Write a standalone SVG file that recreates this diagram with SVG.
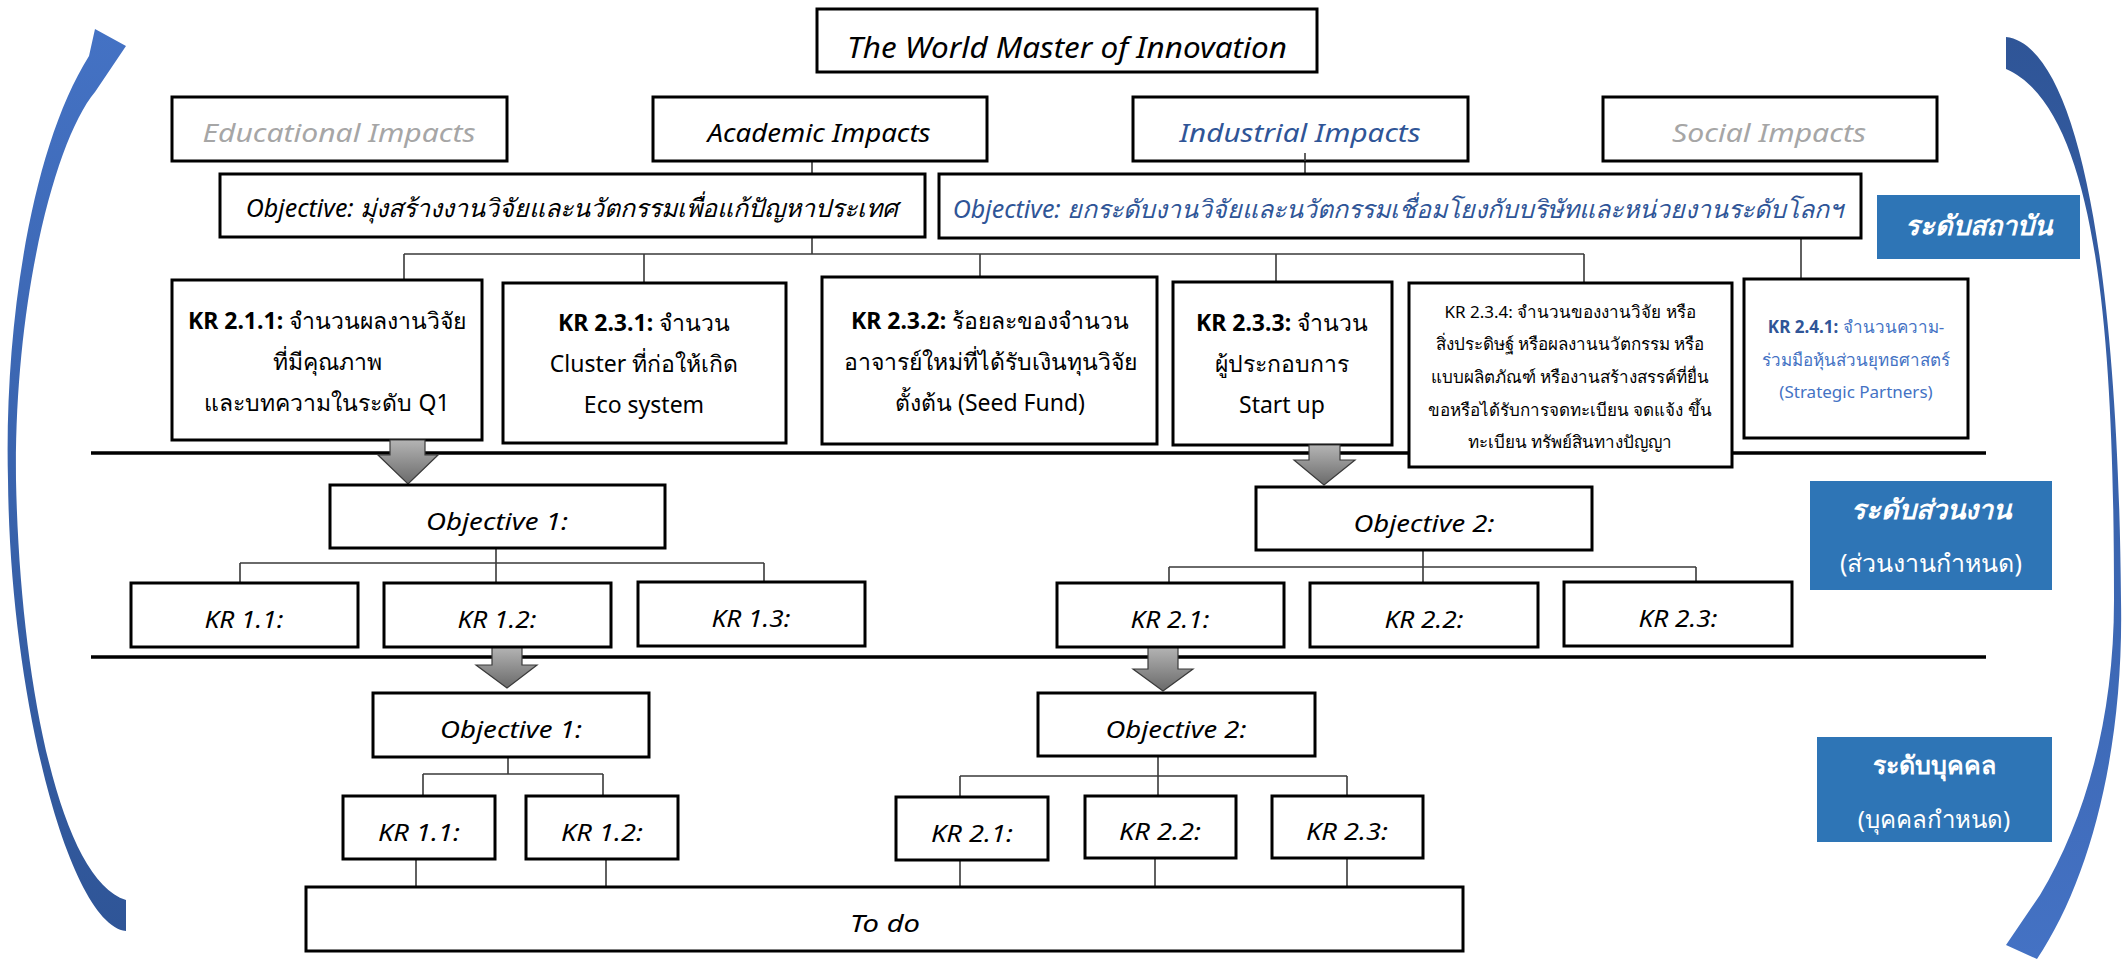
<svg xmlns="http://www.w3.org/2000/svg" width="2123" height="961" viewBox="0 0 2123 961">
<style>
  .box{fill:#fff;stroke:#000;stroke-width:3}
  .side{fill:#2e75b6;stroke:none}
  .t{font-family:"Noto Sans","Liberation Sans",sans-serif;text-anchor:middle;fill:#000}
  .it{font-style:italic}
  .b{font-weight:bold}
  .gray{fill:#a6a6a6}
  .blue{fill:#2f5597}
  .lblue{fill:#4472c4}
  .w{fill:#fff}
  .con{stroke:#3a3a3a;stroke-width:1.6;fill:none}
  .thick{stroke:#000;stroke-width:3.5;fill:none}
  .garrow{fill:url(#gg);stroke:#3a3a3a;stroke-width:1.2}
</style>
<defs>
  <linearGradient id="gg" x1="0" y1="0" x2="0" y2="1">
    <stop offset="0" stop-color="#b4b4b4"/>
    <stop offset="1" stop-color="#6a6a6a"/>
  </linearGradient>
  <linearGradient id="gl" x1="0" y1="0" x2="0" y2="1">
    <stop offset="0" stop-color="#4472c4"/>
    <stop offset="1" stop-color="#2f5597"/>
  </linearGradient>
  <linearGradient id="gr" x1="0" y1="0" x2="0" y2="1">
    <stop offset="0" stop-color="#2f5597"/>
    <stop offset="1" stop-color="#4472c4"/>
  </linearGradient>
</defs>

<!-- curved side arrows -->
<g id="arrow-left">
  <path fill="url(#gl)" d="M126,931 C70,925 10,700 8,480 C4,330 30,150 89,56 L95,29 L126,46 L95,92 C55,140 14,300 16,480 C20,680 60,880 126,900 Z"/>
</g>
<g id="arrow-right">
  <path fill="url(#gr)" d="M2006,37 C2075,45 2118,250 2121,600 C2124,750 2090,880 2037,959 L2006,945 L2040,895 C2085,820 2114,720 2114,600 C2114,350 2100,110 2006,69 Z"/>
</g>

<!-- level separator lines -->
<g id="separators">
  <line class="thick" x1="91" y1="453" x2="1986" y2="453"/>
  <line class="thick" x1="91" y1="657" x2="1986" y2="657"/>
</g>

<!-- connectors -->
<g id="connectors">
  <path class="con" d="M812,161 V174 M1305,153 V174 M812,237 V254 M404,254 H1584 M404,254 V279 M644,254 V283 M980,254 V277 M1276,254 V282 M1584,254 V283 M1801,238 V279"/>
  <path class="con" d="M496,548 V583 M240,563 H764 M240,563 V583 M764,563 V582"/>
  <path class="con" d="M1423,550 V583 M1169,567 H1696 M1169,567 V583 M1696,567 V582"/>
  <path class="con" d="M508,757 V774 M423,774 H603 M423,774 V796 M603,774 V796"/>
  <path class="con" d="M1158,756 V796 M960,776 H1347 M960,776 V797 M1347,776 V796"/>
  <path class="con" d="M416,859 V887 M606,859 V887 M960,860 V887 M1155,858 V887 M1347,858 V887"/>
</g>

<g id="n-title"><rect class="box" x="817" y="9" width="500" height="63"/><text class="t it" x="1067" y="58" font-size="29" textLength="440" lengthAdjust="spacingAndGlyphs">The World Master of Innovation</text></g>

<g id="n-edu"><rect class="box" x="172" y="97" width="335" height="64"/><text class="t it gray" x="339" y="142" font-size="26" textLength="273" lengthAdjust="spacingAndGlyphs">Educational Impacts</text></g>
<g id="n-acad"><rect class="box" x="653" y="97" width="334" height="64"/><text class="t it" x="819" y="142" font-size="26" textLength="223" lengthAdjust="spacingAndGlyphs">Academic Impacts</text></g>
<g id="n-ind"><rect class="box" x="1133" y="97" width="335" height="64"/><line class="con" x1="1305" y1="153" x2="1305" y2="161"/><text class="t it blue" x="1300" y="142" font-size="26" textLength="241" lengthAdjust="spacingAndGlyphs">Industrial Impacts</text></g>
<g id="n-soc"><rect class="box" x="1603" y="97" width="334" height="64"/><text class="t it gray" x="1769" y="142" font-size="26" textLength="194" lengthAdjust="spacingAndGlyphs">Social Impacts</text></g>

<g id="n-objL"><rect class="box" x="220" y="174" width="705" height="63"/><text class="t it" x="572" y="217" font-size="25">Objective: มุ่งสร้างงานวิจัยและนวัตกรรมเพื่อแก้ปัญหาประเทศ</text></g>
<g id="n-objR"><rect class="box" x="939" y="174" width="922" height="64"/><text class="t it blue" x="1398" y="218" font-size="25">Objective: ยกระดับงานวิจัยและนวัตกรรมเชื่อมโยงกับบริษัทและหน่วยงานระดับโลกฯ</text></g>

<g id="n-side1"><rect class="side" x="1877" y="195" width="203" height="64"/><text class="t it b w" x="1978" y="235" font-size="27">ระดับสถาบัน</text></g>

<g id="n-kr211"><rect class="box" x="172" y="280" width="310" height="160"/>
  <text class="t" x="327" y="329" font-size="23"><tspan class="b">KR 2.1.1:</tspan> จำนวนผลงานวิจัย</text>
  <text class="t" x="327" y="370" font-size="23">ที่มีคุณภาพ</text>
  <text class="t" x="327" y="411" font-size="23">และบทความในระดับ Q1</text></g>
<g id="n-kr231"><rect class="box" x="503" y="283" width="283" height="160"/>
  <text class="t" x="644" y="331" font-size="23"><tspan class="b">KR 2.3.1:</tspan> จำนวน</text>
  <text class="t" x="644" y="372" font-size="23">Cluster ที่ก่อให้เกิด</text>
  <text class="t" x="644" y="413" font-size="23">Eco system</text></g>
<g id="n-kr232"><rect class="box" x="822" y="277" width="335" height="167"/>
  <text class="t" x="990" y="329" font-size="23"><tspan class="b">KR 2.3.2:</tspan> ร้อยละของจำนวน</text>
  <text class="t" x="990" y="370" font-size="23">อาจารย์ใหม่ที่ได้รับเงินทุนวิจัย</text>
  <text class="t" x="990" y="411" font-size="23">ตั้งต้น (Seed Fund)</text></g>
<g id="n-kr233"><rect class="box" x="1173" y="282" width="219" height="163"/>
  <text class="t" x="1282" y="331" font-size="23"><tspan class="b">KR 2.3.3:</tspan> จำนวน</text>
  <text class="t" x="1282" y="372" font-size="23">ผู้ประกอบการ</text>
  <text class="t" x="1282" y="413" font-size="23">Start up</text></g>
<g id="n-kr234"><rect class="box" x="1409" y="283" width="323" height="184"/>
  <text class="t" x="1570" y="318" font-size="17" fill="#262626">KR 2.3.4: จำนวนของงานวิจัย หรือ</text>
  <text class="t" x="1570" y="350" font-size="17" fill="#262626">สิ่งประดิษฐ์ หรือผลงานนวัตกรรม หรือ</text>
  <text class="t" x="1570" y="383" font-size="17" fill="#262626">แบบผลิตภัณฑ์ หรืองานสร้างสรรค์ที่ยื่น</text>
  <text class="t" x="1570" y="416" font-size="17" fill="#262626">ขอหรือได้รับการจดทะเบียน จดแจ้ง ขึ้น</text>
  <text class="t" x="1570" y="448" font-size="17" fill="#262626">ทะเบียน ทรัพย์สินทางปัญญา</text></g>
<g id="n-kr241"><rect class="box" x="1744" y="279" width="224" height="159"/>
  <text class="t lblue" x="1856" y="333" font-size="17"><tspan class="b blue">KR 2.4.1:</tspan> จำนวนความ-</text>
  <text class="t lblue" x="1856" y="366" font-size="17">ร่วมมือหุ้นส่วนยุทธศาสตร์</text>
  <text class="t lblue" x="1856" y="398" font-size="17">(Strategic Partners)</text></g>

<!-- grey block arrows -->
<g id="block-arrows">
  <path class="garrow" d="M390,440 H425 V455 H438 L408,484 L378,455 H390 Z"/>
  <path class="garrow" d="M1309,445 H1340 V460 H1355 L1324,485 L1294,460 H1309 Z"/>
  <path class="garrow" d="M492,647 H522 V665 H537 L507,688 L476,665 H492 Z"/>
  <path class="garrow" d="M1148,647 H1178 V669 H1193 L1163,691 L1133,669 H1148 Z"/>
</g>

<g id="n-obj1m"><rect class="box" x="330" y="485" width="335" height="63"/><text class="t it" x="497" y="530" font-size="24" textLength="142" lengthAdjust="spacingAndGlyphs">Objective 1:</text></g>
<g id="n-obj2m"><rect class="box" x="1256" y="487" width="336" height="63"/><text class="t it" x="1424" y="532" font-size="24" textLength="141" lengthAdjust="spacingAndGlyphs">Objective 2:</text></g>
<g id="n-side2"><rect class="side" x="1810" y="481" width="242" height="109"/>
  <text class="t it b w" x="1931" y="519" font-size="27">ระดับส่วนงาน</text>
  <text class="t w" x="1931" y="572" font-size="25">(ส่วนงานกำหนด)</text></g>

<g id="n-kr11m"><rect class="box" x="131" y="583" width="227" height="64"/><text class="t it" x="244" y="628" font-size="24" textLength="79" lengthAdjust="spacingAndGlyphs">KR 1.1:</text></g>
<g id="n-kr12m"><rect class="box" x="384" y="583" width="227" height="64"/><text class="t it" x="497" y="628" font-size="24" textLength="79" lengthAdjust="spacingAndGlyphs">KR 1.2:</text></g>
<g id="n-kr13m"><rect class="box" x="638" y="582" width="227" height="64"/><text class="t it" x="751" y="627" font-size="24" textLength="79" lengthAdjust="spacingAndGlyphs">KR 1.3:</text></g>
<g id="n-kr21m"><rect class="box" x="1057" y="583" width="227" height="64"/><text class="t it" x="1170" y="628" font-size="24" textLength="79" lengthAdjust="spacingAndGlyphs">KR 2.1:</text></g>
<g id="n-kr22m"><rect class="box" x="1310" y="583" width="228" height="64"/><text class="t it" x="1424" y="628" font-size="24" textLength="79" lengthAdjust="spacingAndGlyphs">KR 2.2:</text></g>
<g id="n-kr23m"><rect class="box" x="1564" y="582" width="228" height="64"/><text class="t it" x="1678" y="627" font-size="24" textLength="79" lengthAdjust="spacingAndGlyphs">KR 2.3:</text></g>

<g id="n-obj1b"><rect class="box" x="373" y="693" width="276" height="64"/><text class="t it" x="511" y="738" font-size="24" textLength="142" lengthAdjust="spacingAndGlyphs">Objective 1:</text></g>
<g id="n-obj2b"><rect class="box" x="1038" y="693" width="277" height="63"/><text class="t it" x="1176" y="738" font-size="24" textLength="141" lengthAdjust="spacingAndGlyphs">Objective 2:</text></g>
<g id="n-side3"><rect class="side" x="1817" y="737" width="235" height="105"/>
  <text class="t b w" x="1934" y="774" font-size="25">ระดับบุคคล</text>
  <text class="t w" x="1934" y="828" font-size="24">(บุคคลกำหนด)</text></g>

<g id="n-kr11b"><rect class="box" x="343" y="796" width="152" height="63"/><text class="t it" x="419" y="841" font-size="24" textLength="82" lengthAdjust="spacingAndGlyphs">KR 1.1:</text></g>
<g id="n-kr12b"><rect class="box" x="526" y="796" width="152" height="63"/><text class="t it" x="602" y="841" font-size="24" textLength="82" lengthAdjust="spacingAndGlyphs">KR 1.2:</text></g>
<g id="n-kr21b"><rect class="box" x="896" y="797" width="152" height="63"/><text class="t it" x="972" y="842" font-size="24" textLength="82" lengthAdjust="spacingAndGlyphs">KR 2.1:</text></g>
<g id="n-kr22b"><rect class="box" x="1085" y="796" width="151" height="62"/><text class="t it" x="1160" y="840" font-size="24" textLength="82" lengthAdjust="spacingAndGlyphs">KR 2.2:</text></g>
<g id="n-kr23b"><rect class="box" x="1272" y="796" width="151" height="62"/><text class="t it" x="1347" y="840" font-size="24" textLength="82" lengthAdjust="spacingAndGlyphs">KR 2.3:</text></g>

<g id="n-todo"><rect class="box" x="306" y="887" width="1157" height="64"/><text class="t it" x="885" y="932" font-size="24" textLength="70" lengthAdjust="spacingAndGlyphs">To do</text></g>
</svg>
